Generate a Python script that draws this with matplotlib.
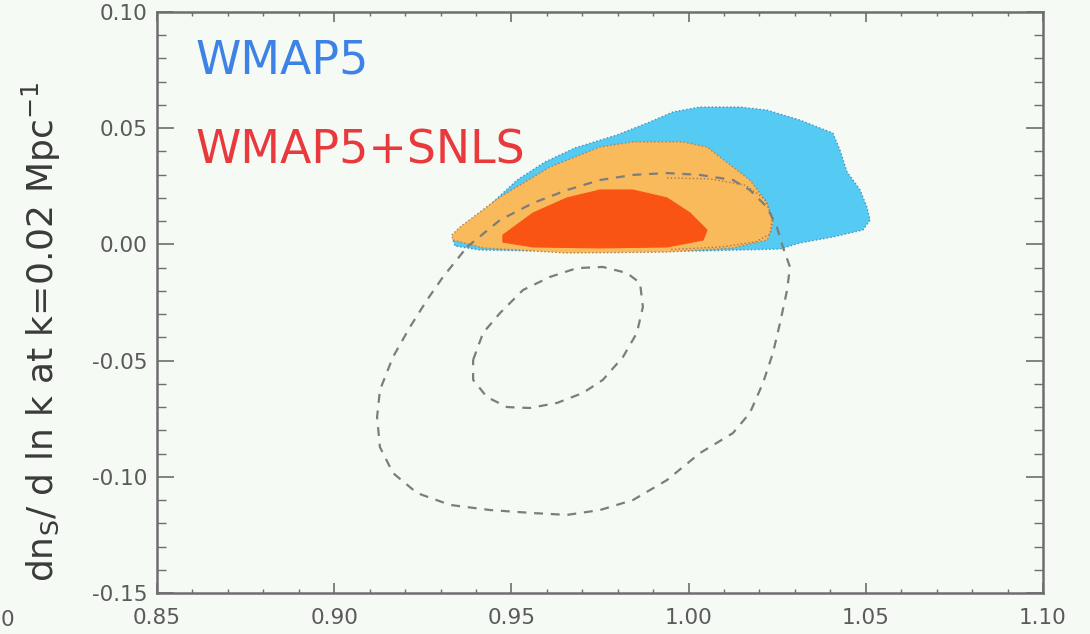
import matplotlib
matplotlib.use("Agg")
import matplotlib.pyplot as plt
from matplotlib.ticker import MultipleLocator, FormatStrFormatter

# ---- data ----
wmap5_x = [0.9335, 0.9369, 0.9440, 0.9516, 0.9595, 0.9679, 0.9798, 0.9891, 0.9956, 1.0032,
           1.0145, 1.0221, 1.0314, 1.0407, 1.0427, 1.0447, 1.0484, 1.0503, 1.0512, 1.0492,
           1.0407, 1.0314, 1.0258, 1.0032, 0.9750, 0.9411, 0.9341]
wmap5_y = [0.0019, 0.0083, 0.0170, 0.0277, 0.0355, 0.0415, 0.0471, 0.0527, 0.0570, 0.0591,
           0.0591, 0.0578, 0.0535, 0.0479, 0.0406, 0.0312, 0.0234, 0.0161, 0.0105, 0.0062,
           0.0032, 0.0006, -0.0020, -0.0028, -0.0033, -0.0024, -0.0007]

snls95_x = [0.9332, 0.9355, 0.9468, 0.9609, 0.9750, 0.9843, 0.9984, 1.0052, 1.0125, 1.0173,
            1.0221, 1.0238, 1.0230, 1.0221, 1.0125, 0.9939, 0.9657, 0.9420, 0.9335]
snls95_y = [0.0040, 0.0075, 0.0204, 0.0333, 0.0419, 0.0441, 0.0441, 0.0419, 0.0333, 0.0277,
            0.0180, 0.0095, 0.0045, 0.0019, -0.0015, -0.0033, -0.0037, -0.0015, 0.0019]

snls68_x = [0.9476, 0.9561, 0.9657, 0.9750, 0.9843, 0.9939, 1.0004, 1.0052, 1.0041, 0.9939,
            0.9750, 0.9561, 0.9476]
snls68_y = [0.0040, 0.0135, 0.0200, 0.0234, 0.0234, 0.0200, 0.0135, 0.0062, 0.0019, -0.0011,
            -0.0015, -0.0011, 0.0010]

dash95_x = [0.9375, 0.9468, 0.9561, 0.9657, 0.9750, 0.9843, 0.9939, 1.0032, 1.0125, 1.0173,
            1.0221, 1.0249, 1.0266, 1.0286, 1.0278, 1.0258, 1.0238, 1.0210, 1.0173, 1.0125,
            1.0032, 0.9939, 0.9843, 0.9750, 0.9657, 0.9561, 0.9440, 0.9327, 0.9234, 0.9166,
            0.9129, 0.9121, 0.9129, 0.9166, 0.9214, 0.9262, 0.9307, 0.9375]
dash95_y = [-0.0011, 0.0105, 0.0178, 0.0234, 0.0277, 0.0299, 0.0307, 0.0299, 0.0277, 0.0234,
            0.0161, 0.0075, -0.0011, -0.0097, -0.0196, -0.0338, -0.0467, -0.0596, -0.0725, -0.0812,
            -0.0898, -0.1014, -0.1100, -0.1143, -0.1164, -0.1156, -0.1143, -0.1121, -0.1070, -0.0984,
            -0.0872, -0.0743, -0.0627, -0.0484, -0.0355, -0.0239, -0.0140, -0.0011]

dash68_x = [0.9392, 0.9420, 0.9468, 0.9533, 0.9609, 0.9685, 0.9758, 0.9826, 0.9863, 0.9871,
            0.9854, 0.9815, 0.9758, 0.9702, 0.9629, 0.9552, 0.9488, 0.9431, 0.9392, 0.9392]
dash68_y = [-0.0497, -0.0381, -0.0295, -0.0196, -0.0140, -0.0102, -0.0097, -0.0123, -0.0166, -0.0269,
            -0.0381, -0.0484, -0.0583, -0.0639, -0.0682, -0.0704, -0.0700, -0.0657, -0.0583, -0.0497]

dot_x = [0.9939, 1.0060, 1.0160, 1.0215, 1.0236, 1.0230, 1.0190, 1.0100, 0.9950]
dot_y = [0.0286, 0.0282, 0.0255, 0.0195, 0.0115, 0.0045, 0.0012, -0.0010, -0.0022]

x_ticks = [0.85, 0.90, 0.95, 1.00, 1.05, 1.10]
y_ticks = [-0.15, -0.10, -0.05, 0.00, 0.05, 0.10]

label_wmap5 = "WMAP5"
label_snls = "WMAP5+SNLS"

# ---- figure ----
bg = "#f5faf5"
fig = plt.figure(figsize=(10.9, 6.34), dpi=100, facecolor=bg)
ax = fig.add_axes([157/1090, 41/634, 886/1090, 581/634], facecolor=bg)

ax.fill(wmap5_x, wmap5_y, facecolor="#55caf3", edgecolor="#4a8fc0", lw=1.0, ls=":", zorder=1)
ax.fill(snls95_x, snls95_y, facecolor="#f9ba5c", edgecolor="#b08050", lw=1.0, ls=":", zorder=2)
ax.fill(snls68_x, snls68_y, facecolor="#fa5414", edgecolor="#fa5414", lw=0.8, zorder=3)

ax.plot(dot_x, dot_y, color="#a07a55", lw=1.0, ls=":", zorder=4)
ax.plot(dash95_x, dash95_y, color="#7d7d7d", lw=1.6, dashes=(4, 3.5), zorder=5)
ax.plot(dash68_x, dash68_y, color="#7d7d7d", lw=1.6, dashes=(4, 3.5), zorder=5)

ax.set_xlim(0.85, 1.10)
ax.set_ylim(-0.15, 0.10)
ax.set_xticks(x_ticks)
ax.set_yticks(y_ticks)
ax.xaxis.set_minor_locator(MultipleLocator(0.01))
ax.yaxis.set_minor_locator(MultipleLocator(0.01))
ax.xaxis.set_major_formatter(FormatStrFormatter("%.2f"))
ax.yaxis.set_major_formatter(FormatStrFormatter("%.2f"))

spine_c = "#6e6e6e"
for s in ax.spines.values():
    s.set_color(spine_c)
    s.set_linewidth(1.8)

ax.tick_params(axis="both", which="both", direction="in", colors=spine_c,
               top=True, right=True, labelcolor="#5a5a5a", labelsize=15.5)
ax.tick_params(axis="x", which="major", length=7, width=1.2, pad=11)
ax.tick_params(axis="x", which="minor", length=3, width=1.0)
ax.tick_params(axis="y", which="major", length=12, width=1.2, pad=7)
ax.tick_params(axis="y", which="minor", length=6.5, width=1.0)

ax.text(0.043, 0.895, label_wmap5, transform=ax.transAxes, color="#3d83e6",
        fontsize=33, ha="left", va="baseline")
ax.text(0.043, 0.740, label_snls, transform=ax.transAxes, color="#e8393d",
        fontsize=33, ha="left", va="baseline")

ax.text(-0.131, 0.449, r"dn$_{\rm S}$/ d ln k at k=0.02 Mpc$^{-1}$", transform=ax.transAxes,
        rotation=90, ha="center", va="center", fontsize=26, color="#3a3a3a")

fig.text(1/1090, 1 - 620/634, "0", ha="left", va="center", fontsize=15.5, color="#5a5a5a")

fig.savefig("out.png", dpi=100, facecolor=bg)
